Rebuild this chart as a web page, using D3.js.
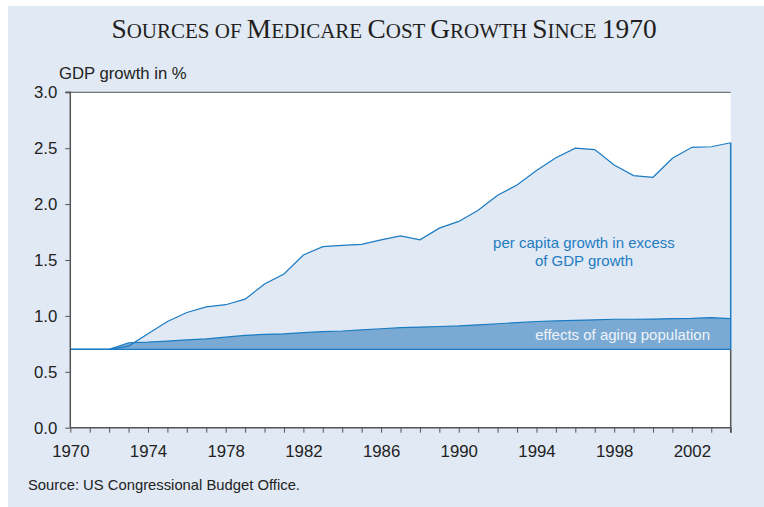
<!DOCTYPE html>
<html>
<head>
<meta charset="utf-8">
<script src="https://cdn.jsdelivr.net/npm/d3@7"></script>
<style>
  body { margin: 0; background: #fff; }
  svg text { font-family: "Liberation Sans", Arial, sans-serif; }
</style>
</head>
<body>
<div id="chart"></div>
<script>
// values
var years = d3.range(1970, 2005);
var totalGrowth = [0.70, 0.70, 0.70, 0.73, 0.84, 0.95, 1.03, 1.08, 1.10, 1.15,
  1.285, 1.375, 1.545, 1.62, 1.63, 1.64, 1.68, 1.715, 1.68, 1.785,
  1.845, 1.945, 2.08, 2.17, 2.30, 2.415, 2.50, 2.487, 2.35, 2.255,
  2.24, 2.41, 2.508, 2.513, 2.549];
var agingGrowth = [0.70, 0.70, 0.70, 0.76, 0.765, 0.775, 0.785, 0.795, 0.81, 0.825,
  0.835, 0.84, 0.85, 0.86, 0.865, 0.875, 0.885, 0.895, 0.90, 0.905,
  0.91, 0.92, 0.93, 0.94, 0.95, 0.955, 0.96, 0.965, 0.97, 0.97,
  0.972, 0.975, 0.978, 0.985, 0.975];
var baseGrowth = 0.7;
var yTicks = [0, 0.5, 1.0, 1.5, 2.0, 2.5, 3.0];
var xLabelYears = [1970, 1974, 1978, 1982, 1986, 1990, 1994, 1998, 2002];

var width = 764, height = 507;
var bg = "#e1e9f4", lineColor = "#1b7bc3", agingFill = "#7aaad3", axisColor = "#555";

var svg = d3.select("#chart").append("svg")
  .attr("width", width)
  .attr("height", height);

// panel
svg.append("rect")
  .attr("x", 8).attr("y", 6)
  .attr("width", width - 8).attr("height", height - 6)
  .attr("fill", bg);

var x = d3.scaleLinear().domain([1970, 2004]).range([70.3, 730.7]);
var y = d3.scaleLinear().domain([0, 3]).range([427.7, 92.3]);

// plot area
svg.append("rect")
  .attr("x", x(1970)).attr("y", y(3))
  .attr("width", x(2004) - x(1970)).attr("height", y(0) - y(3))
  .attr("fill", "#fff");

var rows = years.map(function(yr, i) {
  return {year: yr, total: totalGrowth[i], aging: agingGrowth[i]};
});

var totalArea = d3.area()
  .x(d => x(d.year))
  .y0(y(baseGrowth))
  .y1(d => y(d.total));

var agingArea = d3.area()
  .x(d => x(d.year))
  .y0(y(baseGrowth))
  .y1(d => y(d.aging));

svg.append("path")
  .attr("d", totalArea(rows))
  .attr("fill", bg);

svg.append("path")
  .attr("d", agingArea(rows))
  .attr("fill", agingFill);

var totalLine = d3.line().x(d => x(d.year)).y(d => y(d.total));
var agingLine = d3.line().x(d => x(d.year)).y(d => y(d.aging));

svg.append("path")
  .attr("d", totalLine(rows))
  .attr("fill", "none")
  .attr("stroke", lineColor)
  .attr("stroke-width", 1.2);

svg.append("path")
  .attr("d", agingLine(rows))
  .attr("fill", "none")
  .attr("stroke", lineColor)
  .attr("stroke-width", 1.2);

// base line and right edge
var last = rows[rows.length - 1];
svg.append("line")
  .attr("x1", x(1970)).attr("x2", x(2004))
  .attr("y1", y(baseGrowth)).attr("y2", y(baseGrowth))
  .attr("stroke", lineColor).attr("stroke-width", 1.2);
svg.append("line")
  .attr("x1", x(last.year)).attr("x2", x(last.year))
  .attr("y1", y(baseGrowth)).attr("y2", y(last.total))
  .attr("stroke", lineColor).attr("stroke-width", 1.5);

// frame: top and right
svg.append("line")
  .attr("x1", x(1970)).attr("x2", x(2004))
  .attr("y1", y(3)).attr("y2", y(3))
  .attr("stroke", axisColor).attr("stroke-width", 1);
svg.append("line")
  .attr("x1", x(2004)).attr("x2", x(2004))
  .attr("y1", y(baseGrowth)).attr("y2", y(0))
  .attr("stroke", axisColor).attr("stroke-width", 1.5);

/* Axes */
var xAxis = d3.axisBottom(x)
  .tickValues(years)
  .tickSize(5)
  .tickPadding(12)
  .tickFormat(d => xLabelYears.indexOf(d) >= 0 ? d : "");

var yAxis = d3.axisLeft(y)
  .tickValues(yTicks)
  .tickSize(5)
  .tickPadding(8)
  .tickFormat(d3.format(".1f"));

var gx = svg.append("g")
  .attr("transform", `translate(0, ${y(0)})`)
  .call(xAxis);

var gy = svg.append("g")
  .attr("transform", `translate(${x(1970)}, 0)`)
  .call(yAxis);

[gx, gy].forEach(function(g) {
  g.select(".domain").attr("stroke", axisColor).attr("stroke-width", 1.5);
  g.selectAll(".tick line").attr("stroke", axisColor);
  g.selectAll(".tick text")
    .attr("fill", "#222")
    .style("font-size", "16.8px")
    .style("font-family", '"Liberation Sans", Arial, sans-serif');
});
gy.select(".domain").attr("d", `M-5,${y(3)}H0V${y(0)}`);
gx.select(".domain").attr("d", `M${x(1970)},0H${x(2004)}V5`);

// labels
svg.append("text")
  .attr("x", 59).attr("y", 79)
  .attr("fill", "#222")
  .style("font-size", "16.7px")
  .text("GDP growth in %");

svg.append("text")
  .attr("x", 28).attr("y", 490)
  .attr("fill", "#222")
  .style("font-size", "14.8px")
  .text("Source: US Congressional Budget Office.");

var note = svg.append("text")
  .attr("text-anchor", "middle")
  .attr("fill", "#1f7cc1")
  .style("font-size", "15px");
note.append("tspan").attr("x", 584).attr("y", 248).text("per capita growth in excess");
note.append("tspan").attr("x", 584).attr("y", 266).text("of GDP growth");

svg.append("text")
  .attr("x", 710).attr("y", 340)
  .attr("text-anchor", "end")
  .attr("fill", "#eef3fa")
  .style("font-size", "15px")
  .text("effects of aging population");

// title in small caps
var titleParts = [["S", 1], ["OURCES OF ", 0], ["M", 1], ["EDICARE ", 0], ["C", 1], ["OST ", 0],
  ["G", 1], ["ROWTH ", 0], ["S", 1], ["INCE ", 0], ["1970", 1]];
var title = svg.append("text")
  .attr("x", 384).attr("y", 38)
  .attr("text-anchor", "middle")
  .attr("fill", "#231f20")
  .style("font-family", '"Liberation Serif", "Times New Roman", serif');
title.selectAll("tspan")
  .data(titleParts).enter()
  .append("tspan")
  .style("font-size", d => d[1] ? "27.4px" : "21px")
  .text(d => d[0]);
</script>
</body>
</html>
